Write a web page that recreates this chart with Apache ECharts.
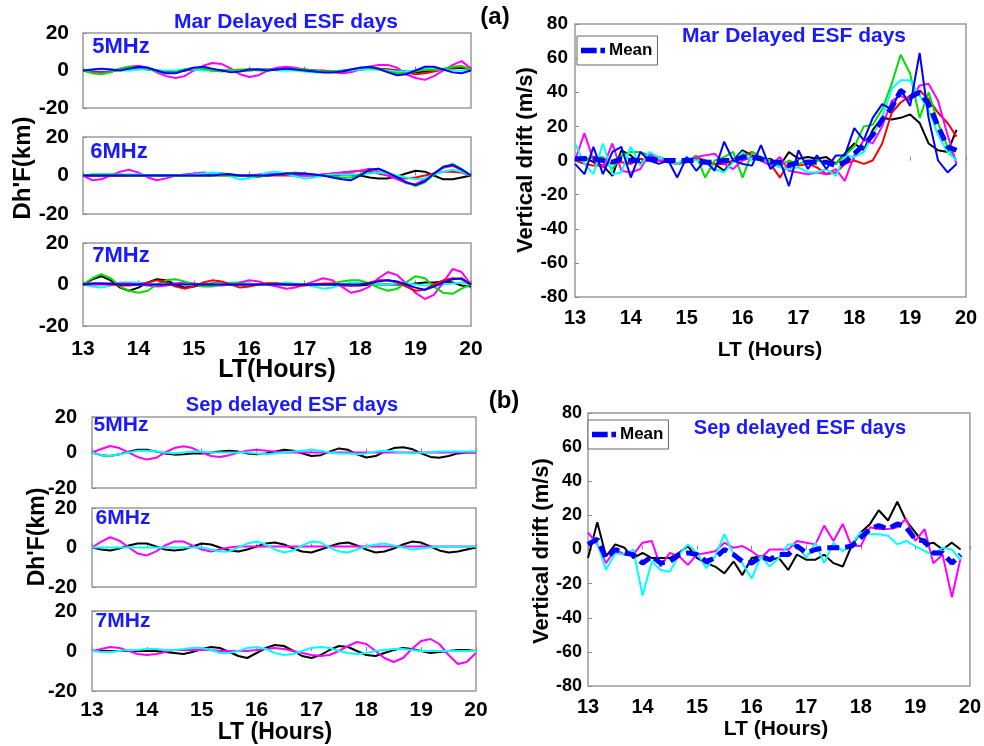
<!DOCTYPE html>
<html>
<head>
<meta charset="utf-8">
<title>Delayed ESF days</title>
<script src="https://cdn.jsdelivr.net/npm/echarts@6/dist/echarts.min.js"></script>
<style>
  html, body { margin: 0; padding: 0; background: #fff; }
  #chart { width: 984px; height: 746px; }
</style>
</head>
<body>
<div id="chart"></div>
<script>
// local time, 10-minute steps (drift curves use the first 42 points)
const hours = [13, 13.17, 13.33, 13.5, 13.67, 13.83, 14, 14.17, 14.33, 14.5, 14.67, 14.83,
  15, 15.17, 15.33, 15.5, 15.67, 15.83, 16, 16.17, 16.33, 16.5, 16.67, 16.83,
  17, 17.17, 17.33, 17.5, 17.67, 17.83, 18, 18.17, 18.33, 18.5, 18.67, 18.83,
  19, 19.17, 19.33, 19.5, 19.67, 19.83, 20];

// ---- March, Dh'F (km) ----
const mar5Black = [0,-0.5,-1,-0.5,0.5,1, 1,0.5,0,-0.5,-0.5,0, 0.5,0.5,0,0,0,0, 0,0.5,0.5,0.5,0.5,0.5, 0,0,-0.5,-0.5,-0.5,0, 0.5,1,1,0.5,0,-0.5, -1,-0.5,0,0.5,1,1.5, 0.5];
const mar5Red = [0,-0.5,-1,-0.5,0.5,1, 1.5,1,0,-1,-1,0, 1,1,0.5,0,0,0, 0.5,0.5,0.5,0.5,0.5,0.5, 0.5,0,0,-0.5,-0.5,0, 0.5,1,1,0.5,0,-1, -2,-1.5,-0.5,0.5,1.5,2, 0.5];
const mar5Green = [0,-1.5,-2,-1,1,2, 2,1,-0.5,-1.5,-1,0.5, 1.5,1,0,-0.5,0,0.5, 0.5,0,0,0.5,1,1, 0.5,0,-0.5,-0.5,0,0.5, 1.5,1.5,0.5,-0.5,-1.5,-1.5, -0.5,0.5,0.5,1,2,2.5, 0.5];
const mar5Magenta = [0,-1,-1.5,-0.5,1,2, 2.5,1.5,-1,-3,-4,-3, 0,2.5,4,3.5,1,-2, -3.5,-2.5,0,1.5,2,1.5, 0.5,0,-0.5,-1,-1.5,-1, 0.5,2,3,3,1.5,-2, -4,-5,-3,0,3,5, 1];
const mar5Cyan = [0,0.5,0.5,0.5,0,0, 0.5,0.5,0,0,0,0.5, 0.5,0,0,0,0,0, 0,0.5,0.5,0,0,0, -0.5,-1,-1,-0.5,0,0, 0.5,0.5,0.5,0,-0.5,-0.5, 0,0.5,0.5,0.5,0,0, 0];
const mar5Blue = [0,0.5,1,0.5,0,1, 2,1.5,0,-1.5,-1.5,0, 1.5,2,1,0,-1,-0.5, 0.5,0.5,0,0.5,1,0.5, 0,-0.5,-1,-1,-0.5,0.5, 1.5,2,1,-1,-2.5,-2, 0,2,2,0.5,-1,-1.5, 0];

const mar6Black = [0,0,0,0,0,0, 0,0,0,0,0,0, 0.5,0.5,1,1,0.5,0, -0.5,-0.5,0,0.5,1,1, 0.5,0,0,0,0.5,0.5, 0,-1,-1.5,-1.5,-0.5,1, 2.5,2,0,-2,-2,-1, 0];
const mar6Red = [0,0,0,0,0,0, 0,0,0,0,0,0, 0,0,0,0,0,0, 0,0,0,0,0,0, 0,0,0.5,1,1.5,2, 2.5,2,1,0,-1,-1.5, -1,0,1,2,2,1.5, 0];
const mar6Green = [0,0.5,0.5,0.5,0.5,0, 0,0,0,0,0,0, 0,0,0,0,0,0, 0,-0.5,0,0.5,1,1.5, 1,0.5,0,-0.5,-1,-1, 0.5,3,3.5,1.5,-1,-3.5, -5.5,-3.5,0.5,4.5,6,3.5, 0];
const mar6Magenta = [0,-2.5,-2,0,2,3, 1.5,-1,-2.5,-1.5,0,0.5, 1,1.5,1,0.5,0,0, 0,0.5,1,1,0.5,0, 0,0,0.5,1,1.5,2, 2.5,3.5,2,0,-2,-4, -4.5,-2,1,4,5,3, 0];
const mar6Cyan = [0,0.5,0.5,0.5,0.5,0.5, 0.5,0,0,0,0,0, 0.5,1,1.5,1,-0.5,-2, -1.5,0,1.5,2,1,-0.5, -1.5,-1,0,0.5,0.5,0.5, 0.5,1,1.5,1,0,-1, -2,-1.5,0.5,2,3,2, 0];
const mar6Blue = [0,0,0,0,0,0, 0,0,0,0,0,0, 0,0,0,0.5,0.5,0, 0,0,0,0.5,1,1, 1,0.5,0,-1,-2,-2.5, 0,3,3.5,1.5,-1,-3.5, -5,-3,1,4.5,5.5,3, 0];

const mar7Black = [0,2.5,4,2,-1.5,-3, -1.5,1,2.5,2,0,-1.5, -1,0,0.5,0.5,0,0, 0,0,0.5,0.5,0,0, 0,0,0,0,-0.5,-0.5, -0.5,0,0,0,0,0, 0.5,1,1,1.5,1,-0.5, -1];
const mar7Red = [0,0.5,0.5,0,-0.5,-0.5, 0,1,2,1,-1,-2, -1,1,2,1.5,0,-1.5, -1,0,0.5,0.5,0,-0.5, -0.5,0,0.5,0.5,0,-0.5, 0,1,2,2,1,-1, -3,-2.5,0,2,3,2.5, 0];
const mar7Green = [0,3,5,3,-1,-3, -4,-3,0,2,2.5,1.5, 0,-1,-1,0,0.5,0.5, 0,0,0,0,0,0, 0,0,0,0.5,1.5,2, 2,0.5,-1.5,-3,-2,1, 4,3,-1,-4,-4.5,-2, 0];
const mar7Magenta = [0,0,0,0,0.5,0.5, 0,-0.5,-1,-0.5,0.5,1, 0.5,0,-0.5,-0.5,0,1, 2,1.5,0,-1,-2,-1.5, 0,1.5,3,2,-1,-4, -3,-1,3,6,4.5,0.5, -4,-7,-5,1,7.5,6, 0];
const mar7Cyan = [0,-1,-1.5,-0.5,1,1, 1,0.5,0,0,0.5,1, 0.5,0,0,0.5,1,1, 0.5,0,0,0.5,1,0.5, 0,-1,-2,-1.5,0,1, 1,0.5,0,0,0.5,0.5, 0,-0.5,-0.5,0,0.5,1, 0];
const mar7Blue = [0,0.5,0.5,0.5,0,0, 0,0,0,0,0,0, 0,0,0,0,0,0, 0,0,0,0,0,0, 0,0,0,0,0,0, 0,0.5,1.5,2,1.5,0, -1.5,-2.5,-1,1,2.5,3, 0];

// ---- March, vertical drift (m/s) ----
const marDriftBlack = [0,2,-1,-3,-9,6, 3,-2,4,2,0,-2, 0,1,0,-2,-6,0, 6,3,0,1,-3,5, 1,2,1,2,-2,4, 10,6,18,25,24,25, 27,22,10,6,5,18];
const marDriftRed = [0,-2,-3,-3,-1,-1, -2,1,0,0,-1,-2, -1,2,0,-2,-2,0, 3,5,2,-2,-10,-1, -3,-2,-4,-8,-7,-2, 0,-2,0,10,28,34, 38,41,36,28,22,14];
const marDriftGreen = [0,0,2,2,-5,3, 5,5,3,2,0,-2, -1,3,-10,0,2,5, -10,5,2,0,-3,0, -2,0,0,-1,-2,3, 8,20,21,30,45,62, 51,25,40,22,8,0];
const marDriftMagenta = [0,16,0,-4,10,-6, -7,-5,4,0,0,-2, 0,2,3,4,-2,-5, 0,2,0,-3,2,-6, -7,-8,-7,-8,-5,-12, 3,12,10,20,35,38, 35,44,45,35,15,-2];
const marDriftCyan = [10,-2,-8,10,-8,-7, 8,-3,5,2,0,-2, 2,0,0,-5,-7,-1, 5,0,2,-2,-4,-5, -4,-7,-7,-5,-9,3, 2,5,15,25,42,47, 47,38,30,15,5,0];
const marDriftBlue = [-2,-8,8,-8,5,8, -10,5,0,-2,0,-10, 2,-6,0,-6,11,0, -2,-3,9,-5,0,-15, 6,-5,3,-5,3,3, 19,12,25,33,30,42, 32,63,25,0,-7,-2];
const marDriftMean = [1,1,1,0,-1,1, 0,0,1,0,0,0, 0,0,-1,-1,0,0, 2,2,1,-1,-1,-3, -1,-1,-1,-1,-3,-1, 4,9,15,24,31,41, 37,40,33,20,8,6];

// ---- September, Dh'F (km) ----
const sep5Black = [0,-1.5,-2,-1,0.5,1.5, 1.5,0.5,-0.5,-1.2,-1,-0.5, -0.5,0,0.5,1,0.5,-0.5, -1,-0.5,0.5,1.5,1,-0.5, -2,-1.5,0.5,2.3,1.5,-1, -2.8,-2,0.5,2.5,3,2, -0.5,-2.5,-3,-2,-0.5,0, 0];
const sep5Magenta = [0,2,3.7,2.5,0,-2.5, -4,-3,0,2.5,3.5,2.5, 0,-2,-2.5,-1.5,0,1, 1.5,1,0.5,0,0,0, 0,0,0,0,0,0, 0,0,0,0,0,0, 0,0,0,0,0,0, 0];
const sep5Cyan = [0,-1.5,-2,-1,0,1, 1,0.5,0,-0.5,0,0.5, 0.5,0,0,0,0,0, -0.5,-1,-0.5,0,0.5,1, 1.5,1,0,-0.5,-0.5,-1, -0.5,0.5,1,0.5,0,-0.5, 0,0,0.5,0.5,0.5,0.5, 0.5];

const sep6Black = [0,-1,-1.5,-0.5,1,2, 2,0.5,-1,-1.5,-1,0.5, 2,1.5,0,-1.5,-2,-1, 0.5,2,2.5,1.5,-0.5,-2, -2.5,-1,0.5,2,2.5,1, -1,-2.5,-2,-0.5,1.5,3, 2.5,0.5,-1.5,-2.5,-2,-1, 0];
const sep6Magenta = [0,3,5.2,3.5,0,-3, -4,-2,1,3,3,1, -1,-2,-1,0,0.5,0.5, 0.5,0.5,0.5,0.5,0.5,0.5, 0.5,0.5,0.5,0.5,0.5,0.5, 0.5,0.5,0.5,0.5,0.5,0.5, 0.5,0.5,0.5,0.5,0.5,0.5, 0.5];
const sep6Cyan = [0,0,0,0,0,0, 0,0,0,0,0,0, 0,-1,-2,-2,0,2, 3,1.5,-1,-2.5,-1.5,1, 3,2.5,0,-2,-2.5,-1, 0.5,1.5,2,1,0,-1, -0.5,0,0.5,0.5,0.5,0.5, 0.5];

const sep7Black = [0,0,0,0,0,0, 0,0,-0.5,-1,-1.5,-0.5, 1,2,1.5,-0.5,-2.5,-3.5, -1,1.5,3,2.5,0,-2.5, -3.5,-2,0.5,2.5,2,0, -2,-2.5,-1,0.5,1.5,1, 0,-1,-0.5,0,0.5,0.5, 0];
const sep7Magenta = [0,1,2,1.5,0,-1.5, -2,-1.5,-0.5,0.5,0.5,0.5, 0.5,0.5,0,0,0,0, 0.5,1,1.5,1,0,-1, -2,-2.5,-2,0,2.5,4.5, 3.5,0,-3.5,-5.5,-3.5,1, 5,6,3.5,-2,-6.5,-5.5, -1];
const sep7Cyan = [0,-0.5,-0.5,0,0.5,0.5, 1,1,0.5,0.5,1,1.5, 1.5,0.5,-1,-1,0,1.5, 2,1,-1,-2,-1.5,0, 1.5,2,1.5,0,-1,-1.5, -1,0,0.5,1,1,0.5, 0,0,0,0,0,0, 0];

// ---- September, vertical drift (m/s) ----
const sepDriftBlack = [-5,16,-4,3,1,-5, -2,-5,-5,-5,-2,2, -5,-8,-10,-14,-7,-15, -5,-4,-6,-5,-12,-3, -6,-6,-3,-8,-10,2, 10,15,23,17,28,17, 10,3,4,0,4,0];
const sepDriftMagenta = [10,3,-8,0,-3,-3, 4,5,-10,-2,-4,-9, -3,-2,-1,4,1,2, -1,-5,0,0,0,5, 4,3,14,5,15,2, 2,13,12,12,13,18, 5,12,-8,-3,-28,-5];
const sepDriftCyan = [5,4,-12,-2,-3,0, -27,-7,-12,-13,-3,3, -2,-11,-4,9,-3,-8, -17,-4,-10,-5,3,3, -5,4,-8,4,-1,3, 10,9,9,8,3,5, 2,-1,-3,1,0,-6];
const sepDriftMean = [3,6,-5,0,-2,-3, -8,-4,-8,-7,-3,-2, -3,-7,-5,0,-3,-7, -8,-4,-6,-3,-3,2, -2,0,1,1,1,2, 7,12,14,12,15,13, 6,5,-2,-2,-8,-3];

const COLORS = { black: '#000000', red: '#ff0000', green: '#00e000', magenta: '#ff00ff', cyan: '#00ffff', blue: '#0000ff' };
const FONT = 'Liberation Sans';

function pairs(values) {
  return values.map((v, i) => [hours[i], v]);
}

// grid boxes: [left, top, width, height]
const boxes = [
  [83, 33, 388, 75], [83, 137, 388, 77], [83, 243, 388, 83],   // Mar Dh'F
  [575, 24, 391, 273],                                        // Mar drift
  [92, 417, 384, 71], [92, 508, 384, 79], [92, 611, 384, 80],  // Sep Dh'F
  [588, 413, 385, 273]                                        // Sep drift
];

const grids = boxes.map(b => ({
  left: b[0], top: b[1], width: b[2], height: b[3],
  show: true, borderColor: '#9a9a9a', borderWidth: 1.5, backgroundColor: 'transparent'
}));

// x axis label settings per grid: null = hidden
const xLabelCfg = [null, null, { size: 21, margin: 13 }, { size: 20, margin: 11 },
  null, null, { size: 21, margin: 9 }, { size: 20, margin: 11 }];
const yLabelCfg = [
  { size: 21, margin: 14 }, { size: 21, margin: 14 }, { size: 21, margin: 14 }, { size: 19, margin: 7 },
  { size: 20, margin: 15 }, { size: 20, margin: 15 }, { size: 20, margin: 15 }, { size: 18, margin: 6 }
];

const xAxes = boxes.map((b, g) => ({
  gridIndex: g, type: 'value', min: 13, max: 20, interval: 1,
  axisLine: { show: false }, splitLine: { show: false },
  axisTick: { inside: true, length: 4, lineStyle: { color: '#888' } },
  axisLabel: xLabelCfg[g]
    ? { show: true, fontSize: xLabelCfg[g].size, fontWeight: 'bold', fontFamily: FONT, color: '#000', margin: xLabelCfg[g].margin }
    : { show: false }
}));

const yAxes = boxes.map((b, g) => {
  const drift = (g === 3 || g === 7);
  return {
    gridIndex: g, type: 'value',
    min: drift ? -80 : -20, max: drift ? 80 : 20, interval: 20,
    axisLine: { show: false }, splitLine: { show: false },
    axisTick: { inside: true, length: 4, lineStyle: { color: '#888' } },
    axisLabel: { fontSize: yLabelCfg[g].size, fontWeight: 'bold', fontFamily: FONT, color: '#000', margin: yLabelCfg[g].margin }
  };
});

function line(g, values, color, name) {
  return {
    type: 'line', name: name, xAxisIndex: g, yAxisIndex: g,
    data: pairs(values), symbol: 'none', silent: true,
    lineStyle: { color: color, width: 2 }, itemStyle: { color: color }
  };
}

function meanLine(g, values, name) {
  return {
    type: 'line', name: name, xAxisIndex: g, yAxisIndex: g,
    data: pairs(values), symbol: 'none', silent: true, z: 5,
    lineStyle: { color: COLORS.blue, width: 5, type: [12, 6] }, itemStyle: { color: COLORS.blue }
  };
}

const series = [
  // Mar 5MHz
  line(0, mar5Black, COLORS.black), line(0, mar5Red, COLORS.red), line(0, mar5Magenta, COLORS.magenta),
  line(0, mar5Cyan, COLORS.cyan), line(0, mar5Green, COLORS.green), line(0, mar5Blue, COLORS.blue),
  // Mar 6MHz
  line(1, mar6Black, COLORS.black), line(1, mar6Red, COLORS.red), line(1, mar6Magenta, COLORS.magenta),
  line(1, mar6Cyan, COLORS.cyan), line(1, mar6Green, COLORS.green), line(1, mar6Blue, COLORS.blue),
  // Mar 7MHz
  line(2, mar7Black, COLORS.black), line(2, mar7Cyan, COLORS.cyan), line(2, mar7Magenta, COLORS.magenta),
  line(2, mar7Green, COLORS.green), line(2, mar7Red, COLORS.red), line(2, mar7Blue, COLORS.blue),
  // Mar drift
  line(3, marDriftBlack, COLORS.black), line(3, marDriftRed, COLORS.red), line(3, marDriftGreen, COLORS.green),
  line(3, marDriftMagenta, COLORS.magenta), line(3, marDriftCyan, COLORS.cyan), line(3, marDriftBlue, COLORS.blue),
  meanLine(3, marDriftMean, 'Mar Mean'),
  // Sep 5/6/7MHz
  line(4, sep5Black, COLORS.black), line(4, sep5Magenta, COLORS.magenta), line(4, sep5Cyan, COLORS.cyan),
  line(5, sep6Black, COLORS.black), line(5, sep6Magenta, COLORS.magenta), line(5, sep6Cyan, COLORS.cyan),
  line(6, sep7Black, COLORS.black), line(6, sep7Magenta, COLORS.magenta), line(6, sep7Cyan, COLORS.cyan),
  // Sep drift
  line(7, sepDriftBlack, COLORS.black), line(7, sepDriftMagenta, COLORS.magenta), line(7, sepDriftCyan, COLORS.cyan),
  meanLine(7, sepDriftMean, 'Sep Mean')
];

// dashed-line legend icon: one long dash and a short stub
const DASH_ICON = 'path://M0,0h17v6h-17z M21,0h5v6h-5z';

function legendAt(left, top, name) {
  return {
    data: [name], left: left, top: top, formatter: () => 'Mean',
    icon: DASH_ICON, itemStyle: { color: COLORS.blue, borderWidth: 0 },
    orient: 'vertical', backgroundColor: '#fff', borderColor: '#666', borderWidth: 1,
    padding: [6, 5, 6, 4], itemWidth: 24, itemHeight: 6, itemGap: 4,
    selectedMode: false,
    textStyle: { fontSize: 17, fontWeight: 'bold', fontFamily: FONT, color: '#000', padding: [0, 0, 0, -1] }
  };
}

function txt(x, y, text, size, color, rotate) {
  return {
    type: 'text', x: x, y: y, rotation: rotate ? Math.PI / 2 : 0, silent: true,
    style: { text: text, fill: color || '#000', font: 'bold ' + size + 'px "' + FONT + '"', align: 'center', verticalAlign: 'middle' }
  };
}

const BLUE_TXT = '#1a1aff';
const graphics = [
  txt(286, 22, 'Mar Delayed ESF days', 21, BLUE_TXT),
  txt(495, 17, '(a)', 24),
  txt(794, 36, 'Mar Delayed ESF days', 21, BLUE_TXT),
  txt(121, 47, '5MHz', 22, BLUE_TXT), txt(119, 152, '6MHz', 22, BLUE_TXT), txt(121, 256, '7MHz', 22, BLUE_TXT),
  txt(23, 168, "Dh'F(km)", 24, '#000', true),
  txt(277, 370, 'LT(Hours)', 25),
  txt(526, 160, 'Vertical drift (m/s)', 22, '#000', true),
  txt(770, 350, 'LT (Hours)', 21),

  txt(292, 405, 'Sep delayed ESF days', 20, BLUE_TXT),
  txt(504, 401, '(b)', 24),
  txt(800, 428, 'Sep delayed ESF days', 20, BLUE_TXT),
  txt(121, 425, '5MHz', 21, BLUE_TXT), txt(123, 518, '6MHz', 21, BLUE_TXT), txt(123, 621, '7MHz', 21, BLUE_TXT),
  txt(38, 537, "Dh'F(km)", 23, '#000', true),
  txt(275, 733, 'LT (Hours)', 23),
  txt(542, 551, 'Vertical drift (m/s)', 22, '#000', true),
  txt(776, 729, 'LT (Hours)', 21)
];

const chart = echarts.init(document.getElementById('chart'));
chart.setOption({
  animation: false,
  backgroundColor: '#fff',
  grid: grids,
  xAxis: xAxes,
  yAxis: yAxes,
  legend: [legendAt(577, 36, 'Mar Mean'), legendAt(588, 420, 'Sep Mean')],
  graphic: graphics,
  series: series
});
</script>
</body>
</html>
